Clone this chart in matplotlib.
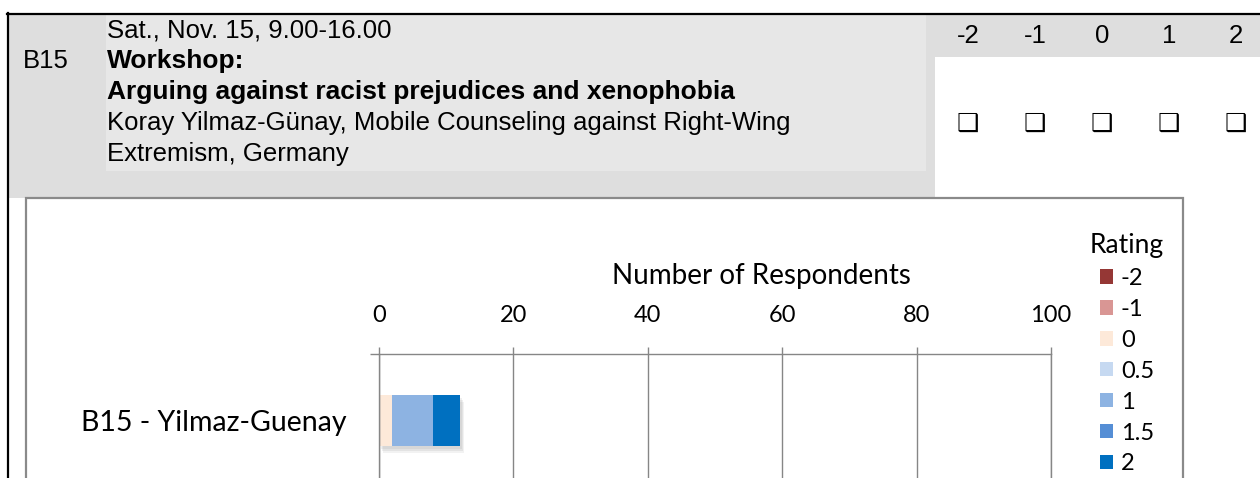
import matplotlib
matplotlib.use("Agg")
import matplotlib.pyplot as plt
import matplotlib.transforms as mtransforms
from matplotlib.patches import Rectangle
import numpy as np

# text of the session form
session_code = "B15"
session_date = "Sat., Nov. 15, 9.00-16.00"
session_type = "Workshop:"
session_title = "Arguing against racist prejudices and xenophobia"
speaker_lines = ["Koray Yilmaz-Günay, Mobile Counseling against Right-Wing",
                 "Extremism, Germany"]
scale_labels = ["-2", "-1", "0", "1", "2"]

# chart data
category = "B15 - Yilmaz-Guenay"
ratings = ["-2", "-1", "0", "0.5", "1", "1.5", "2"]
counts = [0, 0, 2, 0, 6, 0, 4]
rating_colors = ["#953735", "#d99694", "#fde9d9", "#c6d9f1",
                 "#8db3e2", "#558ed5", "#0070c0"]
x_ticks = [0, 20, 40, 60, 80, 100]

plt.rcParams['font.family'] = ['Lato', 'DejaVu Sans']

W, H = 1260, 478
fig = plt.figure(figsize=(W / 100, H / 100), dpi=100)

# document layer in pixel coords
doc = fig.add_axes([0, 0, 1, 1])
doc.set_xlim(0, W)
doc.set_ylim(H, 0)
doc.axis("off")

doc.add_patch(Rectangle((8, 14), 927, 184, color="#dedede", lw=0))
doc.add_patch(Rectangle((935, 14), W - 935, 43, color="#dedede", lw=0))
doc.add_patch(Rectangle((106, 14), 820, 157, color="#e7e7e7", lw=0))
doc.plot([7, W], [14, 14], color="black", lw=1.6)
doc.plot([7.5, 7.5], [13, H], color="black", lw=1.6)
doc.add_patch(Rectangle((26, 198), 1157, 320, facecolor="white",
                        edgecolor="#8a8a8a", lw=1.6))

dfont = dict(family="Liberation Sans", fontsize=18.5, color="black", va="baseline")
doc.text(107, 37, session_date, **dfont)
doc.text(23, 68, session_code, **dfont)
doc.text(107, 68, session_type, fontweight="bold", size=19, **{k: v for k, v in dfont.items() if k != "fontsize"})
doc.text(107, 99, session_title, fontweight="bold", size=19, **{k: v for k, v in dfont.items() if k != "fontsize"})
for i, line in enumerate(speaker_lines):
    doc.text(107, 130 + 31.5 * i, line, **dfont)

cols = [968, 1035, 1102, 1169, 1236]
for x, lab in zip(cols, scale_labels):
    doc.text(x, 43, lab, ha="center", **dfont)
    doc.text(x, 124, "\u2751", family="DejaVu Sans", fontsize=18,
             fontweight="bold", ha="center", va="center")

# chart
ax = fig.add_axes([379 / W, 0, 672 / W, (H - 354) / H])
ax.patch.set_visible(False)
ytop = 66 / 51
ybot = -58 / 51

total = sum(counts)
for dx, dy, a in [(2, 3, 0.12), (3, 5, 0.12), (4, 7, 0.1)]:
    sh = ax.barh(0, total, height=1, color="#808080", alpha=a, lw=0)
    off = mtransforms.ScaledTranslation(dx / 100, -dy / 100, fig.dpi_scale_trans)
    sh[0].set_transform(ax.transData + off)

lefts = np.concatenate([[0], np.cumsum(counts)[:-1]])
for r, c, l, col in zip(ratings, counts, lefts, rating_colors):
    ax.barh(0, c, left=l, height=1, color=col, label=r, lw=0)

ax.set_xlim(0, 100)
ax.set_xticks(x_ticks)
ax.xaxis.tick_top()
ax.tick_params(axis="x", length=5, width=1, color="#868686", pad=15, labelsize=17)
ax.grid(axis="x", color="#868686", lw=1)
ax.set_axisbelow(False)

ax.set_yticks([0], [category])
ax.set_yticks([ytop], minor=True)
ax.tick_params(axis="y", length=0, pad=23, labelsize=20.5)
ax.tick_params(axis="y", which="minor", length=6.5, width=1, color="#868686")
ax.set_ylim(ybot, ytop)

for s in ["top", "left", "right"]:
    ax.spines[s].set_color("#868686")
    ax.spines[s].set_linewidth(1)
ax.spines["bottom"].set_visible(False)

ax.set_xlabel("Number of Respondents", fontsize=20)
ax.xaxis.set_label_position("top")
ax.xaxis.set_label_coords((761 - 379) / 672, 1 + (354 - 276) / 124)
ax.xaxis.label.set_va("center")

fs = 17 * 100 / 72
ax.legend(title="Rating", loc="upper left", bbox_to_anchor=(1090 / W, 1 - 233 / H),
          bbox_transform=fig.transFigure, frameon=False, fontsize=17,
          title_fontsize=19, handlelength=13 / fs, handleheight=13 / fs,
          handletextpad=8 / fs, labelspacing=0.42, borderpad=0, borderaxespad=0)

fig.savefig("out.png", dpi=100)
